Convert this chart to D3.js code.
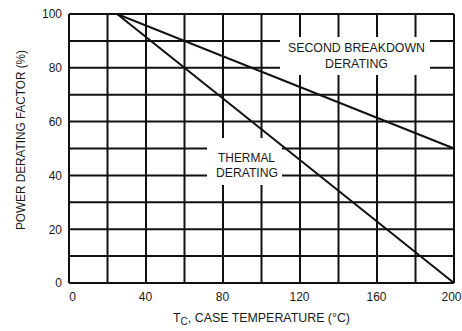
<!DOCTYPE html>
<html>
<head>
<meta charset="utf-8">
<script src="https://cdn.jsdelivr.net/npm/d3@7"></script>
<style>
  html, body { margin: 0; padding: 0; background: #fff; }
  svg text { font-family: "Liberation Sans", Arial, sans-serif; fill: #1a1a1a; }
</style>
</head>
<body>
<svg id="chart" width="462" height="331"></svg>
<script>
// Case temperature (°C) grid and power derating factor (%) grid
const xTicks = [0, 40, 80, 120, 160, 200];
const xGrid = [0, 20, 40, 60, 80, 100, 120, 140, 160, 180, 200];
const yTicks = [0, 20, 40, 60, 80, 100];
const yGrid = [0, 10, 20, 30, 40, 50, 60, 70, 80, 90, 100];

// Derating curves: [temperature, factor]
const thermalDerating = [[0, 100], [25, 100], [200, 0]];
const secondBreakdownDerating = [[0, 100], [25, 100], [200, 50]];

const svg = d3.select("#chart");
const margin = { left: 69, right: 8, top: 14, bottom: 48 };
const W = 462, H = 331;

const x = d3.scaleLinear().domain([0, 200]).range([margin.left, W - margin.right]);
const y = d3.scaleLinear().domain([0, 100]).range([H - margin.bottom, margin.top]);

const stroke = "#111";
const gridW = 2;

// grid
svg.append("g").selectAll("line").data(xGrid).join("line")
  .attr("x1", d => x(d)).attr("x2", d => x(d))
  .attr("y1", y(0)).attr("y2", y(100))
  .attr("stroke", stroke).attr("stroke-width", gridW);
svg.append("g").selectAll("line").data(yGrid).join("line")
  .attr("x1", x(0)).attr("x2", x(200))
  .attr("y1", d => y(d)).attr("y2", d => y(d))
  .attr("stroke", stroke).attr("stroke-width", gridW);

// label panels that mask the grid
svg.append("rect").attr("x", 280).attr("y", 37).attr("width", 150).attr("height", 38).attr("fill", "#fff");
svg.append("rect").attr("x", 207).attr("y", 138).attr("width", 75).attr("height", 47).attr("fill", "#fff");

// curves
const line = d3.line().x(d => x(d[0])).y(d => y(d[1]));
[thermalDerating, secondBreakdownDerating].forEach(s => {
  svg.append("path").attr("d", line(s)).attr("fill", "none")
    .attr("stroke", stroke).attr("stroke-width", 2);
});

// condensed text helper: fixed width via textLength
const label = (t, x0, base, len) => svg.append("text").attr("x", x0).attr("y", base)
  .attr("font-size", 13.5).attr("textLength", len).attr("lengthAdjust", "spacingAndGlyphs").text(t);
label("SECOND BREAKDOWN", 288, 52, 137);
label("DERATING", 325, 68, 63);
label("THERMAL", 218, 162, 57);
label("DERATING", 216, 177, 62);

// axes tick labels
const xAxis = d3.axisBottom(x).tickValues(xTicks).tickSize(0).tickPadding(9).tickFormat(d3.format("d"));
const gx = svg.append("g").attr("transform", `translate(0,${y(0)})`).call(xAxis);
gx.select(".domain").remove();
gx.selectAll("text").attr("font-size", 12).attr("fill", "#1a1a1a")
  .attr("font-family", "Liberation Sans, Arial, sans-serif")
  .attr("dx", d => d === 0 ? 3 : (d === 200 ? -3 : -1));

const yAxis = d3.axisLeft(y).tickValues(yTicks).tickSize(0).tickPadding(7).tickFormat(d3.format("d"));
const gy = svg.append("g").attr("transform", `translate(${x(0)},0)`).call(yAxis);
gy.select(".domain").remove();
gy.selectAll("text").attr("font-size", 12).attr("fill", "#1a1a1a")
  .attr("font-family", "Liberation Sans, Arial, sans-serif");

// axis titles
const xt = svg.append("text").attr("x", 173).attr("y", 322)
  .attr("font-size", 13.5).attr("textLength", 177).attr("lengthAdjust", "spacingAndGlyphs");
xt.append("tspan").text("T");
xt.append("tspan").attr("font-size", 11).attr("dy", 3).text("C");
xt.append("tspan").attr("dy", -3).text(", CASE TEMPERATURE (°C)");

svg.append("text")
  .attr("transform", "translate(25,140) rotate(-90)")
  .attr("text-anchor", "middle").attr("font-size", 13.5)
  .attr("textLength", 180).attr("lengthAdjust", "spacingAndGlyphs")
  .text("POWER DERATING FACTOR (%)");
</script>
</body>
</html>
